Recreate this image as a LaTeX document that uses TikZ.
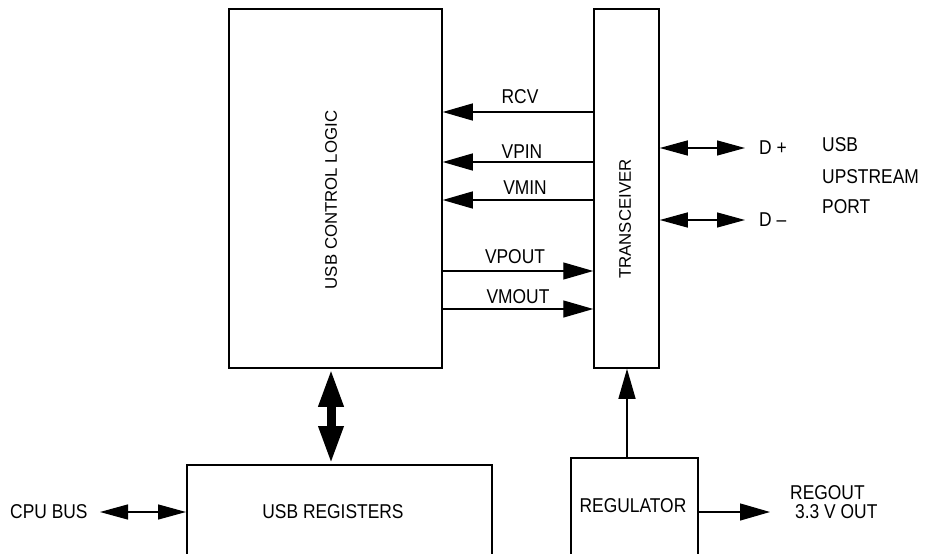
\documentclass[tikz,border=0pt]{standalone}
\usepackage{fontspec}
\setmainfont{Liberation Sans}[FakeStretch=0.87]
\newfontfamily\vfont{Liberation Sans}
\usetikzlibrary{arrows.meta}
\begin{document}
\begin{tikzpicture}[x=1pt,y=-1pt,
  box/.style={draw,line width=1.5pt,inner sep=0pt},
  lbl/.style={font=\fontsize{20}{22}\selectfont,inner sep=0pt},
  vlbl/.style={font=\vfont\fontsize{16.8}{19}\selectfont,inner sep=0pt,rotate=90},
  sig/.style={line width=1.3pt,-{Triangle[length=30pt,width=17pt]}},
  bi/.style={line width=1.3pt,{Triangle[length=28pt,width=15pt]}-{Triangle[length=28pt,width=15pt]}},
  fat/.style={line width=9pt,{Triangle[length=38pt,width=23pt]}-{Triangle[length=38pt,width=23pt]}},
]
\useasboundingbox (0,0) rectangle (929,554);
\clip (0,0) rectangle (929,554);
% boxes
\node[box,minimum width=213pt,minimum height=359pt] (ctrl) at (335.5,188.5) {};
\node[box,minimum width=65pt,minimum height=359pt] (trx) at (626.5,188.5) {};
\node[box,minimum width=305pt,minimum height=120pt,anchor=north west] (regs) at (186,464) {};
\node[box,minimum width=127pt,minimum height=120pt,anchor=north west] (regu) at (570,457) {};
% box labels
\node[vlbl] (ctrlt) at (331,200) {USB CONTROL LOGIC};
\node[vlbl] (trxt) at (625,219) {TRANSCEIVER};
\node[lbl] (regst) at (333,512) {USB REGISTERS};
\node[lbl] (regut) at (633,506) {REGULATOR};
% signals
\draw[sig] (trx.west |- 0,112) -- (ctrl.east |- 0,112);
\draw[sig] (trx.west |- 0,162) -- (ctrl.east |- 0,162);
\draw[sig] (trx.west |- 0,200) -- (ctrl.east |- 0,200);
\draw[sig] (ctrl.east |- 0,271) -- (trx.west |- 0,271);
\draw[sig] (ctrl.east |- 0,309) -- (trx.west |- 0,309);
\node[lbl] (rcv) at (520,97) {RCV};
\node[lbl] (vpin) at (522,152) {VPIN};
\node[lbl] (vmin) at (525,188) {VMIN};
\node[lbl] (vpout) at (515,257) {VPOUT};
\node[lbl] (vmout) at (518,297) {VMOUT};
% D+ / D-
\node[lbl,anchor=west] (dp) at (759,148) {D +};
\node[lbl,anchor=west] (dm) at (759,220) {D –};
\coordinate (dpe) at (745,148);
\coordinate (dme) at (745,220);
\draw[bi] (trx.east |- dpe) -- (dpe);
\draw[bi] (trx.east |- dme) -- (dme);
\node[lbl,anchor=west] (usb) at (822,145) {USB};
\node[lbl,anchor=west] (ups) at (822,177) {UPSTREAM};
\node[lbl,anchor=west] (port) at (822,207) {PORT};
% bus
\draw[fat] (ctrl.south -| 331,0) -- (regs.north -| 331,0);
\node[lbl,anchor=west] (cpu) at (10,512) {CPU BUS};
\coordinate (cpue) at (100,512);
\draw[bi] (cpue) -- (regs.west |- cpue);
% regulator
\draw[sig] (regu.north -| 627,0) -- (trx.south -| 627,0);
\coordinate (rege) at (770,512);
\draw[sig] (regu.east |- rege) -- (rege);
\node[lbl,anchor=west] (rego) at (790,493) {REGOUT};
\node[lbl,anchor=west] (reg33) at (795,512) {3.3 V OUT};
\end{tikzpicture}
\end{document}
